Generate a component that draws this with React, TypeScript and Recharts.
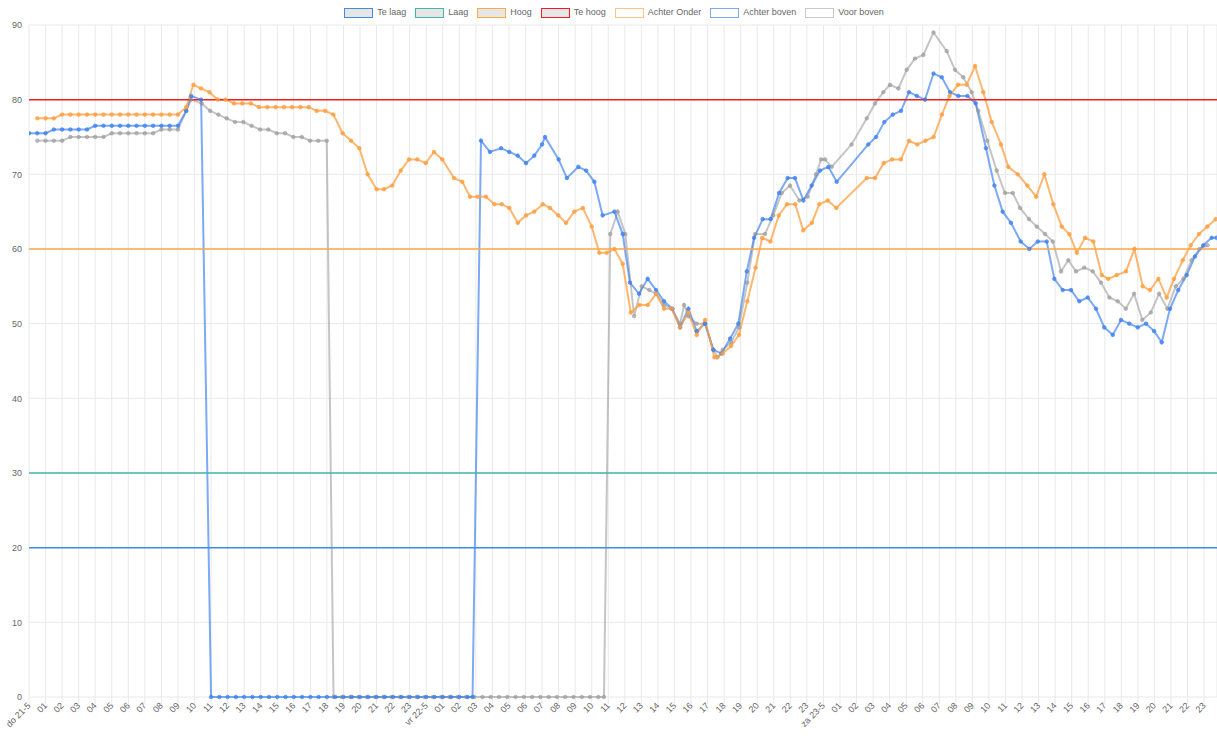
import { LineChart, Line, XAxis, YAxis, CartesianGrid, ReferenceLine } from 'recharts'

// tijd in uren sinds do 21-5 00:00, waarde
const achterOnder: [number, number][] = [
  [0.5, 77.5], [1, 77.5], [1.5, 77.5], [2, 78], [2.5, 78], [3, 78], [3.5, 78], [4, 78], [4.5, 78], [5, 78],
  [5.5, 78], [6, 78], [6.5, 78], [7, 78], [7.5, 78], [8, 78], [8.5, 78], [9, 78], [9.5, 79], [9.93, 82],
  [10.39, 81.5], [10.9, 81], [11.4, 80], [11.88, 80], [12.39, 79.5], [12.89, 79.5], [13.4, 79.5], [13.9, 79],
  [14.4, 79], [14.9, 79], [15.4, 79], [15.9, 79], [16.4, 79], [16.9, 79], [17.38, 78.5], [17.89, 78.5],
  [18.39, 78], [18.95, 75.5], [19.46, 74.5], [19.96, 73.5], [20.46, 70], [21.0, 68], [21.45, 68], [21.95, 68.5],
  [22.46, 70.5], [22.96, 72], [23.46, 72], [23.97, 71.5], [24.47, 73], [24.97, 72], [25.68, 69.5], [26.18, 69],
  [26.65, 67], [27.11, 67], [27.61, 67], [28.12, 66], [28.56, 66], [29.02, 65.5], [29.53, 63.5], [30.03, 64.5],
  [30.53, 65], [31.04, 66], [31.48, 65.5], [31.98, 64.5], [32.45, 63.5], [32.95, 65], [33.46, 65.5], [34.0, 63],
  [34.46, 59.5], [34.9, 59.5], [35.37, 60], [35.87, 58], [36.36, 51.5], [36.88, 52.5], [37.38, 52.5], [37.89, 54],
  [38.37, 52], [38.83, 52], [39.34, 49.5], [39.84, 51.5], [40.34, 48.5], [40.85, 50.5], [41.41, 45.5], [41.55, 45.5],
  [41.91, 46], [42.42, 47], [42.9, 48.5], [43.4, 53], [43.9, 57.5], [44.3, 61.5], [44.8, 61], [45.3, 64.5],
  [45.8, 66], [46.3, 66], [46.78, 62.5], [47.3, 63.5], [47.75, 66], [48.26, 66.5], [48.78, 65.5], [50.62, 69.5],
  [51.12, 69.5], [51.64, 71.5], [52.15, 72], [52.68, 72], [53.17, 74.5], [53.67, 74], [54.16, 74.5], [54.66, 75],
  [55.16, 78], [55.62, 80.5], [56.13, 82], [56.66, 82], [57.16, 84.5], [57.66, 81], [58.17, 77], [58.73, 74],
  [59.17, 71], [59.74, 70], [60.32, 68.5], [60.85, 67], [61.35, 70], [61.89, 66], [62.4, 63], [62.86, 62],
  [63.31, 59.5], [63.81, 61.5], [64.31, 61], [64.82, 56.5], [65.21, 56], [65.72, 56.5], [66.28, 57], [66.79, 60],
  [67.29, 55], [67.73, 54.5], [68.24, 56], [68.74, 53.5], [69.18, 56], [69.71, 58.5], [70.19, 60.5], [70.69, 62],
  [71.2, 63], [71.7, 64],
]

const achterBoven: [number, number][] = [
  [0, 75.5], [0.5, 75.5], [1, 75.5], [1.5, 76], [2, 76], [2.5, 76], [3, 76], [3.5, 76], [4, 76.5], [4.5, 76.5],
  [5, 76.5], [5.5, 76.5], [6, 76.5], [6.5, 76.5], [7, 76.5], [7.5, 76.5], [8, 76.5], [8.5, 76.5], [9, 76.5],
  [9.5, 78.5], [9.8, 80.5], [10.4, 80],
  [11, 0], [11.5, 0], [12, 0], [12.5, 0], [13, 0], [13.5, 0], [14, 0], [14.5, 0], [15, 0], [15.5, 0], [16, 0],
  [16.5, 0], [17, 0], [17.5, 0], [18, 0], [18.5, 0], [19, 0], [19.5, 0], [20, 0], [20.5, 0], [21, 0], [21.5, 0],
  [22, 0], [22.5, 0], [23, 0], [23.5, 0], [24, 0], [24.5, 0], [25, 0], [25.5, 0], [26, 0], [26.5, 0], [26.8, 0],
  [27.31, 74.5], [27.85, 73], [28.52, 73.5], [29.02, 73], [29.53, 72.5], [30.03, 71.5], [30.53, 72.5], [31.0, 74],
  [31.18, 75], [32.0, 72], [32.5, 69.5], [33.19, 71], [33.66, 70.5], [34.16, 69], [34.66, 64.5], [35.37, 65],
  [35.87, 62], [36.31, 55.5], [36.86, 54], [37.38, 56], [37.89, 54.5], [38.37, 53], [38.87, 52], [39.34, 49.5],
  [39.84, 52], [40.34, 49], [40.85, 50], [41.35, 46.5], [41.85, 46], [42.36, 48], [42.86, 50], [43.37, 57],
  [43.81, 61.5], [44.33, 64], [44.81, 64], [45.32, 67.5], [45.84, 69.5], [46.28, 69.5], [46.79, 66.5], [47.29, 68.5],
  [47.79, 70.5], [48.3, 71], [48.8, 69], [50.71, 74], [51.18, 75], [51.68, 77], [52.19, 78], [52.69, 78.5],
  [53.17, 81], [53.64, 80.5], [54.14, 80], [54.65, 83.5], [55.15, 83], [55.65, 81], [56.15, 80.5], [56.7, 80.5],
  [57.2, 79.5], [57.82, 73.5], [58.33, 68.5], [58.83, 65], [59.33, 63.5], [59.92, 61], [60.44, 60], [60.95, 61],
  [61.49, 61], [61.95, 56], [62.46, 54.5], [62.96, 54.5], [63.46, 53], [63.97, 53.5], [64.47, 52], [64.97, 49.5],
  [65.48, 48.5], [65.98, 50.5], [66.48, 50], [66.99, 49.5], [67.49, 50], [67.98, 49], [68.44, 47.5], [68.94, 52],
  [69.44, 54.5], [69.95, 56.5], [70.45, 59], [70.95, 60.5], [71.46, 61.5], [71.75, 61.5],
]

const voorBoven: [number, number][] = [
  [0.5, 74.5], [1, 74.5], [1.5, 74.5], [2, 74.5], [2.5, 75], [3, 75], [3.5, 75], [4, 75], [4.5, 75], [5, 75.5],
  [5.5, 75.5], [6, 75.5], [6.5, 75.5], [7, 75.5], [7.5, 75.5], [8, 76], [8.5, 76], [9, 76], [9.5, 78.5], [9.79, 80],
  [10.43, 79.5], [10.94, 78.5], [11.44, 78], [11.94, 77.5], [12.45, 77], [12.95, 77], [13.45, 76.5], [13.96, 76],
  [14.46, 76], [14.97, 75.5], [15.47, 75.5], [15.97, 75], [16.48, 75], [16.98, 74.5], [17.48, 74.5], [17.99, 74.5],
  [18.4, 0], [18.9, 0], [19.4, 0], [19.9, 0], [20.4, 0], [20.9, 0], [21.4, 0], [21.9, 0], [22.4, 0], [22.9, 0],
  [23.4, 0], [23.9, 0], [24.4, 0], [24.9, 0], [25.4, 0], [25.9, 0], [26.4, 0], [26.9, 0], [27.4, 0], [27.9, 0],
  [28.4, 0], [28.9, 0], [29.4, 0], [29.9, 0], [30.4, 0], [30.9, 0], [31.4, 0], [31.9, 0], [32.4, 0], [32.9, 0],
  [33.4, 0], [33.9, 0], [34.4, 0], [34.74, 0],
  [35.12, 62], [35.57, 65], [36.03, 62], [36.56, 51], [37.02, 55], [37.48, 54.5], [37.89, 54], [38.37, 52.5],
  [38.83, 52], [39.34, 50], [39.58, 52.5], [39.84, 51], [40.34, 50], [40.85, 50], [41.35, 46.5], [41.6, 45.5],
  [41.91, 46.5], [42.42, 47.5], [42.9, 49.5], [43.4, 55.5], [43.87, 62], [44.47, 62], [44.97, 64.5], [45.48, 67.5],
  [45.98, 68.5], [46.55, 66.5], [47.05, 67], [47.55, 70], [47.86, 72], [48.1, 72], [48.5, 71], [49.7, 74],
  [50.62, 77.5], [51.12, 79.5], [51.62, 81], [52.02, 82], [52.53, 81.5], [53.03, 84], [53.53, 85.5], [54.04, 86],
  [54.65, 89], [55.45, 86.5], [55.95, 84], [56.45, 83], [56.96, 81], [57.36, 78.5], [57.9, 74.5], [58.47, 70.5],
  [58.97, 67.5], [59.44, 67.5], [59.88, 65.5], [60.42, 64], [60.89, 63], [61.39, 62], [61.86, 61], [62.36, 57],
  [62.8, 58.5], [63.26, 57], [63.76, 57.5], [64.27, 57], [64.77, 55.5], [65.28, 53.5], [65.78, 53], [66.27, 52],
  [66.77, 54], [67.27, 50.5], [67.78, 51.5], [68.28, 54], [68.78, 52], [69.29, 55], [69.75, 56], [70.24, 58.5],
  [70.72, 60], [71.21, 60.5],
]

const grenzen = [
  { name: 'Te laag', value: 20, color: '#3b8de6' },
  { name: 'Laag', value: 30, color: '#42b5ad' },
  { name: 'Hoog', value: 60, color: '#ffa845' },
  { name: 'Te hoog', value: 80, color: '#f01e1e' },
]

const reeksen = [
  { name: 'Achter Onder', data: achterOnder, color: 'rgba(255, 159, 64, 0.75)', legend: '#ffc27f' },
  { name: 'Achter boven', data: achterBoven, color: 'rgba(54, 125, 240, 0.65)', legend: '#7aa9f4' },
  { name: 'Voor boven', data: voorBoven, color: 'rgba(150, 150, 150, 0.55)', legend: '#c8c8c8' },
]

const dagen = ['do 21-5', 'vr 22-5', 'za 23-5']
const uren = Array.from({ length: 72 }, (_, i) => i)
const yTicks = [0, 10, 20, 30, 40, 50, 60, 70, 80, 90]

const FONT = '"Liberation Sans", Arial, Helvetica, sans-serif'

const uurLabel = (h: number) => (h % 24 === 0 ? dagen[h / 24] : String(h % 24).padStart(2, '0'))

const XTick = ({ x, y, payload }: any) => (
  <text
    x={x}
    y={y}
    dy="0.35em"
    transform={`rotate(-45 ${x} ${y})`}
    textAnchor="end"
    fontSize={9}
    fontFamily={FONT}
    fill="#666"
  >
    {uurLabel(payload.value)}
  </text>
)

const Legenda = () => (
  <div
    style={{
      position: 'absolute', left: 0, top: 7, width: 1228, display: 'flex', justifyContent: 'center', gap: 9,
      fontFamily: FONT, fontSize: 9, color: '#666', lineHeight: '11px',
    }}
  >
    {[...grenzen.map((g) => ({ name: g.name, border: g.color, fill: '#e6e6e6' })),
      ...reeksen.map((r) => ({ name: r.name, border: r.legend, fill: '#fff' }))].map((it) => (
      <div key={it.name} style={{ display: 'flex', alignItems: 'center' }}>
        <span
          style={{
            display: 'inline-block', boxSizing: 'border-box', width: 29, height: 10,
            border: `1.5px solid ${it.border}`, background: it.fill, marginRight: 4,
          }}
        />
        <span>{it.name}</span>
      </div>
    ))}
  </div>
)

export default function App() {
  return (
    <div style={{ position: 'absolute', left: 0, top: 0, width: 1217, height: 736, background: '#fff' }}>
      <Legenda />
      <LineChart width={1217} height={736} margin={{ top: 25, right: 0, bottom: 0, left: 0 }}>
        <CartesianGrid stroke="#e9e9e9" strokeWidth={1} />
        <XAxis
          dataKey="t"
          type="number"
          domain={[0, 71.78]}
          ticks={uren}
          interval={0}
          height={39}
          tickSize={7}
          tickMargin={0}
          tickLine={{ stroke: '#e9e9e9' }}
          axisLine={false}
          tick={<XTick />}
          allowDataOverflow
        />
        <YAxis
          type="number"
          domain={[0, 90]}
          ticks={yTicks}
          width={29}
          tickSize={0}
          tickMargin={7}
          axisLine={false}
          tickLine={false}
          tick={{ fontSize: 9, fill: '#666', fontFamily: FONT }}
        />
        {[...reeksen].reverse().map((r) => (
          <Line
            key={r.name}
            data={r.data.map(([t, v]) => ({ t, v }))}
            dataKey="v"
            name={r.name}
            type="linear"
            stroke={r.color}
            strokeWidth={2}
            dot={{ r: 1.8, fill: r.color, stroke: r.color, strokeWidth: 1 }}
            activeDot={false}
            isAnimationActive={false}
          />
        ))}
        {[...grenzen].reverse().map((g) => (
          <ReferenceLine key={g.name} y={g.value} stroke={g.color} strokeWidth={1.5} />
        ))}
      </LineChart>
    </div>
  )
}
